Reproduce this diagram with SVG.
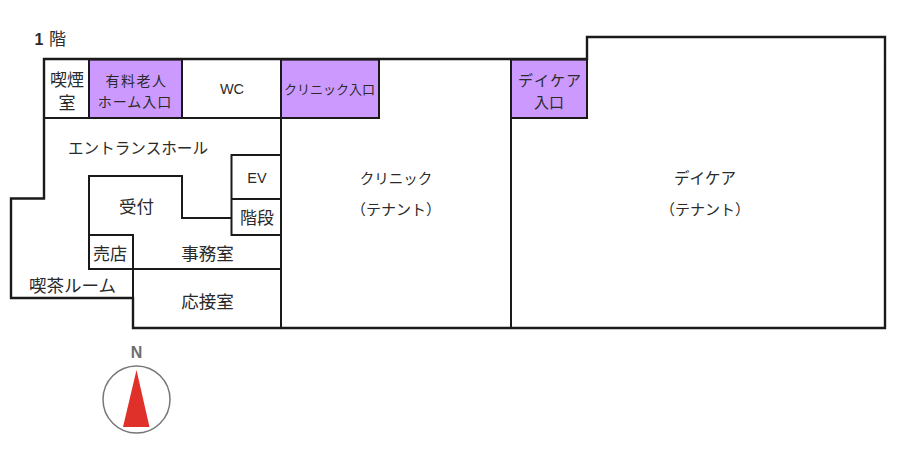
<svg xmlns="http://www.w3.org/2000/svg" width="900" height="466" viewBox="0 0 900 466">
<style>
.w{fill:none;stroke:#1a1a1a;stroke-width:2.4;stroke-linecap:square;stroke-linejoin:miter}
.i{fill:none;stroke:#1a1a1a;stroke-width:2;stroke-linecap:square}
.p{fill:#cc99ff;stroke:#1a1a1a;stroke-width:2}
text{font-family:"Noto Sans CJK JP","Liberation Sans",sans-serif;fill:#2a2a2a;text-anchor:middle;font-size:16px}
.m{font-size:17px}
.b{font-size:17.500px}
.s{font-size:14px}
.t{font-size:15px}
.l{font-family:"Liberation Sans",sans-serif;font-size:14.500px}
</style>
<rect width="900" height="466" fill="#fff"/>
<g id="rooms">
<rect class="p" x="89" y="59.500" width="93" height="58.500"/>
<rect class="p" x="281" y="59.500" width="98" height="58.500"/>
<rect class="p" x="511" y="59.500" width="76" height="58.500"/>
</g>
<g id="walls">
<path class="w" d="M44 59H587V37H885V328H133V298H11V198.500H44Z"/>
<path class="i" d="M44 118H281M281 59V328M511 59V328M231.500 155H281V235H231.500ZM231.500 199H281M89 176H182V218H231.500M89 176V269H281M89 235H133V298"/>
</g>
<g id="labels">
<text x="39" y="45" style="font-family:'Liberation Sans',sans-serif;font-weight:bold;font-size:16px">1</text>
<text x="57.500" y="45" class="m">階</text>
<text class="m" x="67" y="85.500">喫煙</text>
<text class="m" x="67" y="109">室</text>
<text class="s" x="136.500" y="86" style="letter-spacing:1.500px">有料老人</text>
<text class="s" x="135" y="106.500" style="letter-spacing:1px">ホーム入口</text>
<text class="l" x="232" y="94">WC</text>
<text x="329.500" y="94" style="font-size:13px">クリニック入口</text>
<text class="t" x="550" y="85.500" style="letter-spacing:1px">デイケア</text>
<text class="t" x="549" y="107.500">入口</text>
<text x="138" y="153.500" style="font-size:15.600px">エントランスホール</text>
<text class="l" x="257" y="183">EV</text>
<text class="m" x="257" y="224">階段</text>
<text class="b" x="136.500" y="213">受付</text>
<text class="m" x="110" y="260">売店</text>
<text class="b" x="207.500" y="260">事務室</text>
<text class="b" x="72.500" y="291.500" >喫茶ルーム</text>
<text class="b" x="207.500" y="307.500">応接室</text>
<text x="396" y="184" style="font-size:14.500px">クリニック</text>
<text class="t" x="396" y="215">（テナント）</text>
<text x="705" y="184" style="font-size:15.500px">デイケア</text>
<text class="t" x="705" y="215">（テナント）</text>
</g>
<g id="compass">
<circle cx="136.500" cy="399.500" r="33.500" fill="#fff" stroke="#777" stroke-width="1.500"/>
<polygon points="136.500,370 149.500,427 123,427" fill="#e0302a"/>
<text x="136.500" y="358" style="font-family:'Liberation Sans',sans-serif;font-weight:bold;font-size:16px;fill:#6e6e6e">N</text>
</g>
</svg>
